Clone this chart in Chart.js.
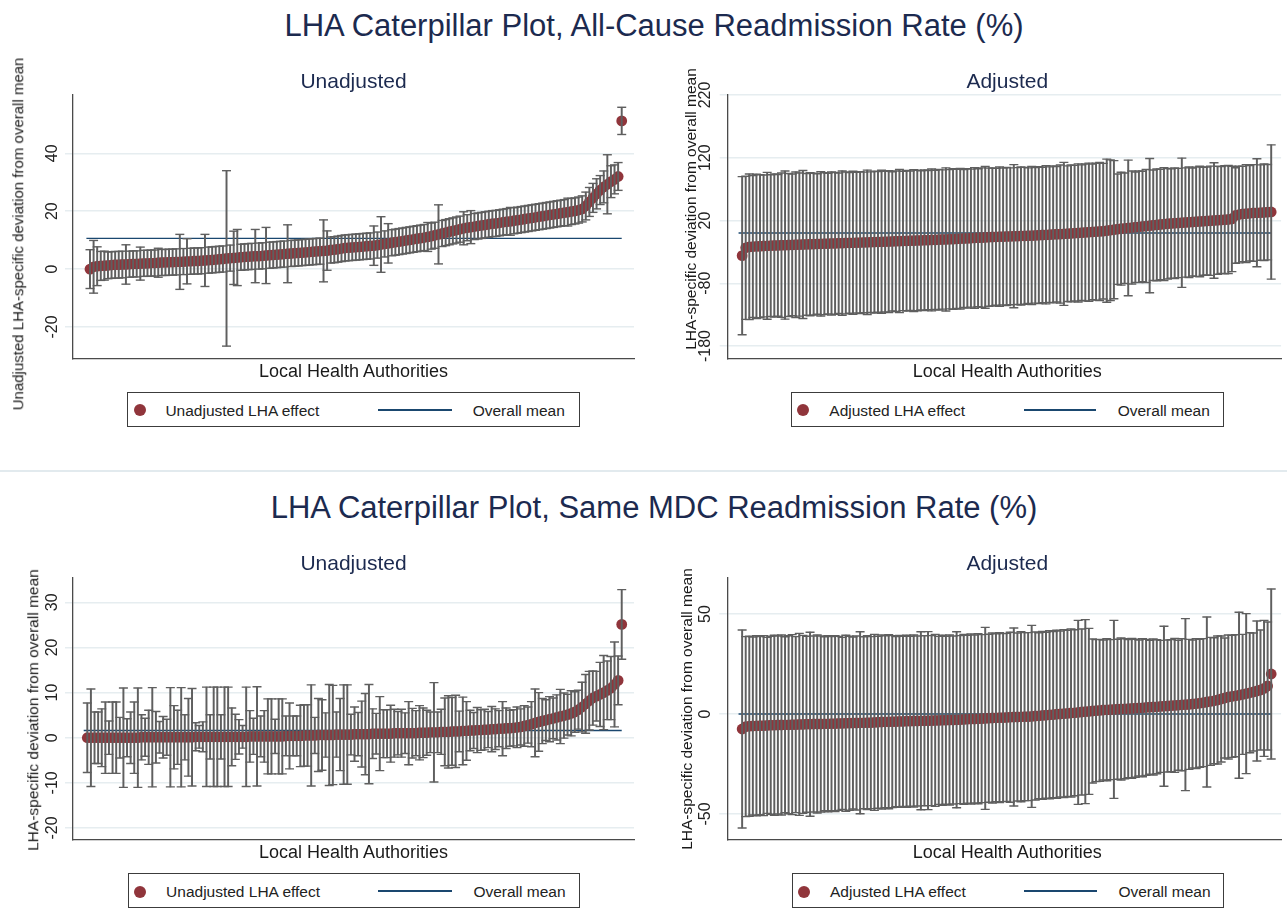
<!DOCTYPE html>
<html>
<head>
<meta charset="utf-8">
<script src="https://cdn.jsdelivr.net/npm/chart.js@4/dist/chart.umd.min.js"></script>
<style>
  body { margin: 0; background: #fff; width: 1287px; height: 911px; position: relative; overflow: hidden;
         font-family: "Liberation Sans", Arial, Helvetica, sans-serif; }
  canvas { position: absolute; }
  .t { position: absolute; white-space: nowrap; }
  .mt { font-size: 31px; line-height: 31px; color: #1c2a4f; transform: translateX(-50%); }
  .st { font-size: 21px; line-height: 21px; color: #1c2a4f; transform: translateX(-50%); }
  .xt { font-size: 18px; line-height: 18px; color: #1a1a1a; transform: translateX(-50%); }
  .yt { font-size: 15.5px; line-height: 15.5px; color: #1a1a1a; transform: translate(-50%, -50%) rotate(-90deg); }
  .sep { position: absolute; left: 0; top: 470px; width: 1287px; height: 2px; background: #e2eaee; }
  .leg { position: absolute; height: 35px; border: 1.3px solid #3c3c3c; box-sizing: border-box; background: #fff; }
  .leg .dot { position: absolute; top: 11.3px; width: 12px; height: 12px; border-radius: 50%; background: #90353b; }
  .leg .ln { position: absolute; top: 16px; height: 1.6px; background: #1a476f; }
  .leg .lt { position: absolute; top: 10.2px; font-size: 15.5px; line-height: 15.5px; color: #222; white-space: nowrap; }
</style>
</head>
<body>

<canvas id="allUnadj" width="650" height="300" style="left:0px; top:70px"></canvas>
<canvas id="allAdj" width="632" height="300" style="left:655px; top:70px"></canvas>
<canvas id="mdcUnadj" width="650" height="300" style="left:0px; top:552px"></canvas>
<canvas id="mdcAdj" width="632" height="300" style="left:655px; top:552px"></canvas>

<div class="t mt" style="left:654px; top:9.5px">LHA Caterpillar Plot, All-Cause Readmission Rate (%)</div>
<div class="t st" style="left:353.5px; top:69.5px">Unadjusted</div>
<div class="t st" style="left:1007.3px; top:69.5px">Adjusted</div>

<div class="t yt" style="left:18.3px; top:234px; font-size:15px">Unadjusted LHA-specific deviation from overall mean</div>
<div class="t yt" style="left:691px; top:208.5px">LHA-specific deviation from overall mean</div>
<div class="t xt" style="left:353.5px; top:361.5px">Local Health Authorities</div>
<div class="t xt" style="left:1007.3px; top:361.5px">Local Health Authorities</div>

<div class="leg" style="left:127px; top:392px; width:453px">
  <div class="dot" style="left:5.7px"></div>
  <div class="lt" style="left:37.4px">Unadjusted LHA effect</div>
  <div class="ln" style="left:249.7px; width:74px"></div>
  <div class="lt" style="left:344.7px">Overall mean</div>
</div>
<div class="leg" style="left:791px; top:392px; width:433px">
  <div class="dot" style="left:5.3px"></div>
  <div class="lt" style="left:37.3px">Adjusted LHA effect</div>
  <div class="ln" style="left:231.7px; width:72.6px"></div>
  <div class="lt" style="left:325.7px">Overall mean</div>
</div>

<div class="sep"></div>

<div class="t mt" style="left:654px; top:491.5px">LHA Caterpillar Plot, Same MDC Readmission Rate (%)</div>
<div class="t st" style="left:353.5px; top:552.2px">Unadjusted</div>
<div class="t st" style="left:1007.3px; top:552.2px">Adjusted</div>

<div class="t yt" style="left:32.5px; top:710px">LHA-specific deviation from overall mean</div>
<div class="t yt" style="left:687px; top:709px">LHA-specific deviation from overall mean</div>
<div class="t xt" style="left:353.5px; top:842.8px">Local Health Authorities</div>
<div class="t xt" style="left:1007.2px; top:842.8px">Local Health Authorities</div>

<div class="leg" style="left:127.7px; top:873.3px; width:452px">
  <div class="dot" style="left:5.7px"></div>
  <div class="lt" style="left:37.4px">Unadjusted LHA effect</div>
  <div class="ln" style="left:249.7px; width:74px"></div>
  <div class="lt" style="left:344.7px">Overall mean</div>
</div>
<div class="leg" style="left:791.7px; top:873.3px; width:432px">
  <div class="dot" style="left:5.3px"></div>
  <div class="lt" style="left:37.3px">Adjusted LHA effect</div>
  <div class="ln" style="left:231.7px; width:72.6px"></div>
  <div class="lt" style="left:325.7px">Overall mean</div>
</div>

<script>
// All-cause readmission, unadjusted: LHA effect and half width of its CI, sorted by effect
const allUnadjEst = [
  0.0, 0.8, 1.0, 1.1, 1.2, 1.3, 1.4, 1.5, 1.5, 1.6,
  1.6, 1.7, 1.8, 1.8, 1.9, 2.0, 2.0, 2.1, 2.1, 2.2,
  2.3, 2.3, 2.4, 2.4, 2.5, 2.5, 2.6, 2.7, 2.7, 2.8,
  2.8, 2.9, 3.0, 3.1, 3.2, 3.3, 3.4, 3.5, 3.7, 3.8,
  3.9, 4.0, 4.1, 4.2, 4.3, 4.4, 4.5, 4.5, 4.6, 4.7,
  4.8, 4.9, 5.0, 5.1, 5.2, 5.3, 5.4, 5.5, 5.6, 5.7,
  5.8, 5.9, 6.0, 6.1, 6.2, 6.3, 6.4, 6.6, 6.7, 6.9,
  7.1, 7.3, 7.4, 7.5, 7.6, 7.7, 7.8, 7.9, 8.0, 8.1,
  8.3, 8.5, 8.7, 8.9, 9.1, 9.3, 9.5, 9.7, 9.9, 10.1,
  10.3, 10.5, 10.7, 10.9, 11.1, 11.4, 11.7, 12.0, 12.3, 12.6,
  12.9, 13.2, 13.5, 13.8, 14.1, 14.3, 14.5, 14.7, 14.9, 15.1,
  15.3, 15.5, 15.7, 15.8, 16.0, 16.2, 16.4, 16.5, 16.7, 16.9,
  17.1, 17.3, 17.5, 17.7, 17.9, 18.1, 18.3, 18.5, 18.7, 18.9,
  19.1, 19.3, 19.5, 19.7, 19.9, 20.1, 20.4, 20.8, 21.8, 23.2,
  24.6, 26.0, 27.3, 28.4, 29.3, 30.2, 31.0, 32.0, 51.2
]
const allUnadjCi = [
  6.7, 9.1, 6.7, 5.0, 5.0, 4.6, 4.6, 4.6, 4.6, 4.6,
  6.8, 4.5, 4.5, 4.5, 5.7, 4.5, 4.5, 4.5, 4.5, 5.0,
  4.5, 4.5, 4.5, 4.5, 4.5, 9.5, 4.5, 7.8, 4.5, 4.5,
  4.5, 4.5, 9.0, 4.5, 4.5, 4.5, 4.5, 4.5, 30.3, 4.5,
  9.2, 9.7, 4.5, 4.5, 4.5, 4.5, 9.2, 4.5, 4.5, 9.7,
  4.5, 4.5, 4.5, 4.5, 4.5, 10.0, 4.5, 4.5, 4.5, 4.5,
  4.5, 4.5, 4.5, 4.5, 4.5, 10.7, 6.8, 4.5, 4.5, 4.5,
  4.5, 4.5, 4.5, 4.5, 4.5, 4.5, 4.5, 4.5, 4.5, 6.8,
  4.5, 9.6, 4.5, 6.8, 4.5, 4.5, 4.5, 4.5, 4.5, 4.5,
  4.5, 4.5, 4.5, 4.5, 5.0, 4.5, 4.5, 10.2, 4.5, 4.5,
  4.5, 4.5, 4.5, 4.5, 5.7, 4.5, 5.7, 4.5, 4.5, 4.5,
  4.5, 4.5, 4.5, 4.5, 4.5, 4.5, 4.5, 4.8, 4.5, 4.5,
  4.5, 4.5, 4.5, 4.5, 4.5, 4.5, 4.5, 4.5, 4.5, 4.5,
  4.5, 4.5, 4.5, 4.8, 4.5, 4.5, 4.5, 4.5, 4.8, 5.0,
  5.0, 5.2, 5.0, 5.5, 10.2, 5.5, 5.0, 4.8, 4.7
]
const allUnadjMean = 10.6

// All-cause readmission, adjusted
const allAdjEst = [
  -36.0, -23.5, -22.0, -21.5, -21.2, -21.0, -20.6, -20.3, -20.0, -19.8,
  -19.6, -19.4, -19.2, -19.0, -18.8, -18.6, -18.4, -18.2, -18.0, -17.8,
  -17.6, -17.4, -17.2, -17.0, -16.8, -16.6, -16.4, -16.2, -16.0, -15.8,
  -15.7, -15.5, -15.3, -15.1, -14.9, -14.7, -14.5, -14.3, -14.1, -13.9,
  -13.7, -13.5, -13.2, -13.0, -12.8, -12.6, -12.4, -12.2, -12.0, -11.8,
  -11.6, -11.4, -11.2, -11.0, -10.8, -10.5, -10.3, -10.1, -9.9, -9.6,
  -9.3, -9.0, -8.7, -8.4, -8.1, -7.8, -7.5, -7.2, -6.9, -6.6,
  -6.3, -6.0, -5.8, -5.6, -5.4, -5.2, -5.0, -4.8, -4.6, -4.4,
  -4.2, -4.0, -3.7, -3.4, -3.1, -2.8, -2.5, -2.2, -1.9, -1.6,
  -1.3, -1.0, -0.6, -0.2, 0.2, 0.6, 1.0, 1.4, 1.8, 2.2,
  2.6, 3.0, 3.8, 4.6, 5.4, 6.2, 7.0, 7.6, 8.2, 8.8,
  9.4, 10.0, 10.6, 11.2, 11.8, 12.4, 13.0, 13.6, 14.2, 14.8,
  15.2, 15.6, 16.0, 16.4, 16.8, 17.2, 17.6, 18.0, 18.4, 18.8,
  19.2, 19.6, 20.0, 20.4, 20.8, 21.2, 21.6, 22.5, 28.0, 29.5,
  30.5, 31.0, 31.5, 32.0, 32.3, 32.6, 33.0, 33.3, 33.6
]
const allAdjCi = [
  126, 114, 116, 113, 115, 114, 113, 117, 113, 114,
  113, 115, 118, 114, 113, 116, 114, 118, 113, 114,
  113, 112, 115, 113, 112, 114, 113, 112, 115, 113,
  112, 114, 112, 113, 112, 115, 112, 113, 112, 114,
  112, 113, 111, 112, 114, 111, 112, 111, 113, 112,
  111, 112, 111, 113, 111, 112, 111, 114, 111, 112,
  111, 112, 110, 111, 110, 112, 110, 111, 113, 110,
  110, 109, 111, 109, 110, 109, 114, 109, 110, 109,
  108, 110, 108, 109, 108, 110, 108, 109, 108, 110,
  114, 108, 109, 108, 110, 108, 109, 110, 108, 109,
  110, 108, 114, 112, 110, 88, 90, 88, 108, 90,
  88, 89, 88, 90, 107, 88, 89, 88, 90, 88,
  87, 88, 87, 103, 87, 88, 86, 87, 88, 86,
  86, 87, 92, 86, 85, 86, 86, 84, 76, 77,
  76, 78, 76, 77, 86, 76, 77, 76, 107
]
const allAdjMean = 0

// Same MDC readmission, unadjusted
const mdcUnadjEst = [
  0.0, 0.0, 0.0, 0.0, 0.0, 0.0, 0.0, 0.0, 0.0, 0.0,
  0.0, 0.0, 0.0, 0.0, 0.0, 0.1, 0.1, 0.1, 0.1, 0.1,
  0.1, 0.1, 0.1, 0.1, 0.1, 0.1, 0.1, 0.1, 0.1, 0.1,
  0.2, 0.2, 0.2, 0.2, 0.2, 0.2, 0.2, 0.2, 0.2, 0.2,
  0.2, 0.2, 0.2, 0.2, 0.2, 0.3, 0.3, 0.3, 0.3, 0.3,
  0.3, 0.3, 0.3, 0.3, 0.3, 0.4, 0.4, 0.4, 0.4, 0.4,
  0.5, 0.5, 0.5, 0.5, 0.6, 0.6, 0.6, 0.6, 0.6, 0.7,
  0.7, 0.7, 0.7, 0.7, 0.8, 0.8, 0.8, 0.8, 0.8, 0.9,
  0.9, 0.9, 0.9, 0.9, 0.9, 1.0, 1.0, 1.0, 1.0, 1.0,
  1.0, 1.0, 1.1, 1.1, 1.1, 1.2, 1.2, 1.2, 1.3, 1.3,
  1.3, 1.4, 1.4, 1.4, 1.5, 1.5, 1.6, 1.6, 1.7, 1.7,
  1.8, 1.8, 1.9, 1.9, 2.0, 2.0, 2.1, 2.1, 2.2, 2.3,
  2.4, 2.6, 2.8, 3.0, 3.3, 3.5, 3.7, 3.9, 4.1, 4.3,
  4.5, 4.7, 4.9, 5.1, 5.4, 5.7, 6.2, 6.8, 7.5, 8.2,
  8.8, 9.2, 9.6, 10.0, 10.5, 11.0, 11.8, 12.7, 25.1
]
const mdcUnadjCi = [
  7.7, 10.8, 5.7, 5.7, 6.4, 7.9, 3.7, 7.9, 7.9, 4.5,
  11.0, 4.2, 5.7, 7.9, 11.0, 5.0, 4.2, 6.0, 11.0, 5.7,
  3.5, 4.6, 4.0, 11.0, 7.0, 6.0, 11.0, 5.0, 8.6, 10.8,
  3.1, 2.5, 3.3, 11.0, 4.9, 11.0, 11.0, 4.9, 11.0, 11.0,
  6.4, 5.0, 3.8, 2.5, 11.0, 5.7, 4.0, 11.0, 4.5, 5.7,
  8.3, 8.3, 3.8, 8.3, 8.3, 4.4, 7.3, 4.4, 4.4, 6.8,
  6.8, 6.8, 11.2, 4.0, 8.1, 7.8, 4.9, 11.2, 11.0, 5.0,
  8.0, 11.0, 11.0, 4.5, 6.0, 4.8, 7.3, 9.0, 11.0, 5.5,
  4.5, 8.2, 5.3, 5.3, 6.3, 5.3, 4.8, 5.3, 4.5, 7.0,
  5.5, 5.0, 6.0, 5.5, 5.0, 4.5, 11.0, 4.5, 5.0, 7.5,
  8.0, 7.5, 8.0, 4.5, 7.5, 6.5, 4.5, 4.0, 5.0, 4.5,
  4.5, 4.0, 5.0, 4.5, 4.0, 6.0, 4.5, 4.0, 4.0, 4.5,
  4.0, 4.5, 4.0, 5.0, 7.5, 6.5, 5.0, 4.5, 5.0, 4.5,
  5.0, 6.0, 5.0, 4.5, 5.0, 4.5, 4.3, 5.5, 6.5, 6.5,
  6.0, 5.5, 7.1, 8.2, 6.5, 7.0, 9.4, 5.4, 7.7
]
const mdcUnadjMean = 1.6

// Same MDC readmission, adjusted
const mdcAdjEst = [
  -7.5, -6.3, -6.1, -6.0, -5.9, -5.8, -5.8, -5.7, -5.6, -5.6,
  -5.5, -5.5, -5.4, -5.4, -5.3, -5.3, -5.2, -5.2, -5.1, -5.1,
  -5.0, -5.0, -5.0, -4.9, -4.9, -4.8, -4.8, -4.7, -4.7, -4.6,
  -4.6, -4.5, -4.5, -4.4, -4.4, -4.3, -4.3, -4.2, -4.1, -4.0,
  -3.9, -3.9, -3.8, -3.8, -3.7, -3.7, -3.6, -3.6, -3.5, -3.5,
  -3.4, -3.4, -3.3, -3.3, -3.2, -3.2, -3.1, -3.1, -3.0, -3.0,
  -2.9, -2.8, -2.7, -2.6, -2.5, -2.5, -2.4, -2.3, -2.2, -2.1,
  -2.0, -1.9, -1.8, -1.8, -1.7, -1.6, -1.5, -1.5, -1.4, -1.3,
  -1.3, -1.2, -1.0, -0.9, -0.7, -0.6, -0.4, -0.3, -0.1, 0.0,
  0.2, 0.3, 0.5, 0.6, 0.8, 1.0, 1.2, 1.3, 1.5, 1.7,
  1.8, 2.0, 2.1, 2.2, 2.3, 2.4, 2.5, 2.6, 2.7, 2.8,
  2.9, 3.0, 3.1, 3.3, 3.4, 3.5, 3.6, 3.8, 3.9, 4.0,
  4.2, 4.3, 4.4, 4.6, 4.7, 4.8, 5.0, 5.2, 5.4, 5.7,
  6.0, 6.3, 6.6, 7.0, 7.5, 8.0, 8.5, 8.8, 9.1, 9.4,
  9.8, 10.2, 10.6, 11.0, 11.5, 12.0, 12.8, 14.0, 20.0
]
const mdcAdjCi = [
  49.5, 45, 45, 44.5, 45, 44.5, 45, 44, 44.5, 45,
  44.5, 45, 44, 44.5, 45, 44, 45.5, 44.5, 44, 46,
  44, 44.5, 44, 43.5, 44, 43.5, 44, 43.5, 43, 44,
  43.5, 43, 43.5, 45.5, 43, 43.5, 43, 44, 43, 43.5,
  43, 43.5, 43, 42.5, 43, 42.5, 43, 42.5, 43, 42.5,
  44.5, 42.5, 44.5, 42.5, 43, 42, 42.5, 42, 42.5, 42,
  44, 42, 42.5, 42, 42.5, 42, 42.5, 42, 45.5, 42,
  42.5, 42, 42.5, 42, 42, 42.5, 44.5, 42, 42.5, 42,
  42, 45.5, 42, 41.5, 42, 41.5, 42, 41.5, 42, 41.5,
  42, 41.5, 42, 41.5, 46, 41.5, 46, 41.5, 36, 35.5,
  35.5, 35, 35.5, 35, 44.5, 35, 35.5, 35, 34.5, 35,
  34.5, 34, 34.5, 34, 33.5, 34, 33.5, 33, 40, 33,
  33, 33.5, 32.5, 33, 43, 32.5, 32, 32.5, 32, 32,
  42.5, 32, 31.5, 32, 31.5, 30, 31, 30.5, 30.5, 41.5,
  30, 40, 30, 29.5, 35, 30, 34, 32, 42.5
]
const mdcAdjMean = 0

// y axis ticks of each panel
const allUnadjTicks = [40, 20, 0, -20]
const allAdjTicks = [220, 120, 20, -80, -180]
const mdcUnadjTicks = [30, 20, 10, 0, -10, -20]
const mdcAdjTicks = [50, 0, -50]

// mean line runs along the ranks
const meanSpan = [-1, 148]

const MAROON = '#90353b'
const NAVY = '#1a476f'
const WHISKER = '#5f5f5f'
const GRID = '#e6edf0'
const AXIS = '#4a4a4a'
const FONT = '"Liberation Sans", Arial, Helvetica, sans-serif'

function crearPanel(canvasId, est, ci, mean, ticks, cfg) {
    const rank = est.map((_, i) => i)
    const lo = est.map((v, i) => v - ci[i])
    const hi = est.map((v, i) => v + ci[i])

    new Chart(document.getElementById(canvasId), {
        type: 'bar',
        data: {
            datasets: [
                {
                    type: 'line',
                    data: meanSpan.map(x => ({ x, y: mean })),
                    borderColor: NAVY,
                    borderWidth: 1.4,
                    pointRadius: 0,
                    order: 4
                },
                {
                    type: 'scatter',
                    data: rank.map(i => ({ x: i, y: est[i] })),
                    pointRadius: 5.4,
                    pointBackgroundColor: MAROON,
                    pointBorderWidth: 0,
                    order: 3
                },
                {
                    type: 'bar',
                    data: rank.map(i => ({ x: i, y: [lo[i], hi[i]] })),
                    backgroundColor: WHISKER,
                    borderWidth: 0,
                    barThickness: 1.3,
                    order: 2
                },
                {
                    type: 'scatter',
                    data: rank.flatMap(i => [{ x: i, y: lo[i] }, { x: i, y: hi[i] }]),
                    pointStyle: 'line',
                    pointRadius: 4.5,
                    pointBorderColor: WHISKER,
                    pointBorderWidth: 1.4,
                    order: 1
                }
            ]
        },
        options: {
            responsive: false,
            animation: false,
            layout: { padding: cfg.padding },
            plugins: { legend: { display: false }, tooltip: { enabled: false } },
            scales: {
                x: {
                    type: 'linear',
                    min: cfg.x[0],
                    max: cfg.x[1],
                    offset: false,
                    ticks: { display: false },
                    grid: { display: false, drawTicks: false },
                    border: { display: true, color: AXIS, width: 1.3 },
                    afterFit: s => { s.height = 0 }
                },
                y: {
                    type: 'linear',
                    min: cfg.y[0],
                    max: cfg.y[1],
                    afterBuildTicks: s => { s.ticks = ticks.map(v => ({ value: v })) },
                    ticks: {
                        minRotation: 90,
                        maxRotation: 90,
                        crossAlign: 'center',
                        padding: cfg.tickPad,
                        color: '#222',
                        font: { family: FONT, size: 16 }
                    },
                    grid: { color: GRID, lineWidth: 1.5, drawTicks: true, tickLength: 8 },
                    border: { display: true, color: AXIS, width: 1.3 },
                    afterFit: s => { s.width = cfg.yWidth }
                }
            }
        }
    })
}

crearPanel('allUnadj', allUnadjEst, allUnadjCi, allUnadjMean, allUnadjTicks, {
    x: [-4.73, 151.42], y: [-31.05, 60.14], yWidth: 73, tickPad: 1,
    padding: { left: 0, top: 25, right: 16, bottom: 11 }
})
crearPanel('allAdj', allAdjEst, allAdjCi, allAdjMean, allAdjTicks, {
    x: [-4.04, 150.77], y: [-200.7, 220], yWidth: 72.7, tickPad: -2.3,
    padding: { left: 0, top: 25, right: 0, bottom: 11 }
})
crearPanel('mdcUnadj', mdcUnadjEst, mdcUnadjCi, mdcUnadjMean, mdcUnadjTicks, {
    x: [-3.96, 151.4], y: [-22.66, 35.54], yWidth: 73, tickPad: 1,
    padding: { left: 0, top: 25.3, right: 16, bottom: 12 }
})
crearPanel('mdcAdj', mdcAdjEst, mdcAdjCi, mdcAdjMean, mdcAdjTicks, {
    x: [-4.15, 150.77], y: [-63, 68.35], yWidth: 72.3, tickPad: 1.7,
    padding: { left: 0, top: 25.3, right: 0, bottom: 12 }
})
</script>
</body>
</html>
